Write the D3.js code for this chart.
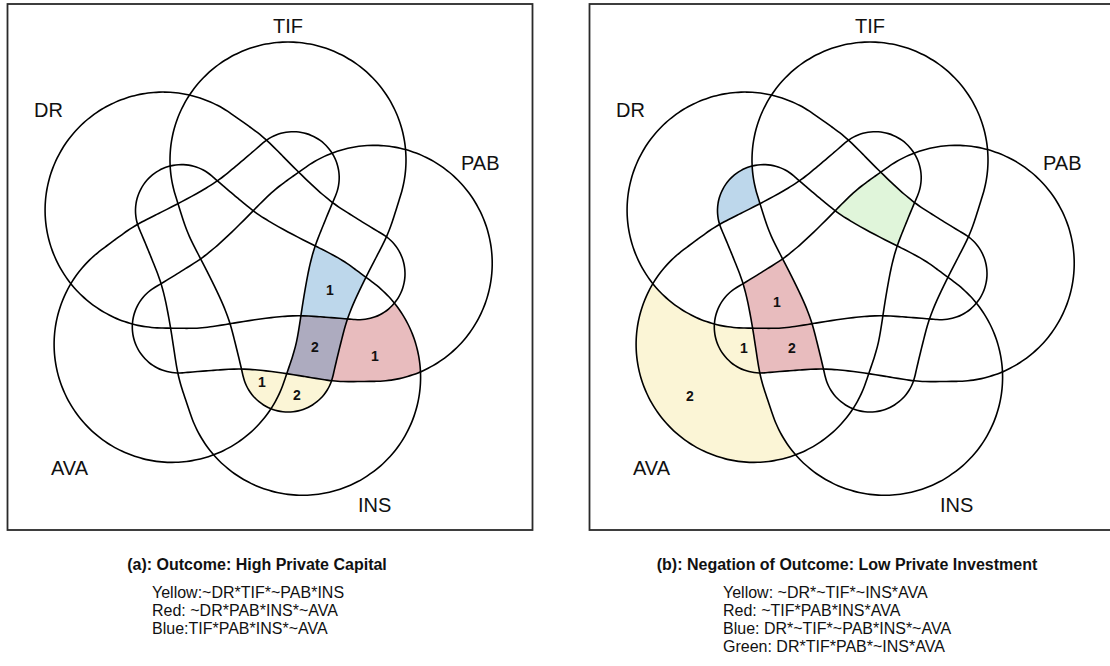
<!DOCTYPE html>
<html>
<head>
<meta charset="utf-8">
<script src="https://cdn.jsdelivr.net/npm/d3@7"></script>
<style>
  html, body { margin: 0; padding: 0; background: #fff; }
  svg { display: block; }
</style>
</head>
<body>
<svg id="chart" width="1110" height="666"></svg>
<script>
// ---- data ----------------------------------------------------------------
// sets in clockwise order, starting with the one whose lobe points up
const setNames = ["TIF", "PAB", "INS", "AVA", "DR"];

const panelTitles = [
  "(a): Outcome: High Private Capital",
  "(b): Negation of Outcome: Low Private Investment"
];

// solution terms, one per line; each term is also the fill rule for its colour
const solutionTermsA = [
  "Yellow:~DR*TIF*~PAB*INS",
  "Red: ~DR*PAB*INS*~AVA",
  "Blue:TIF*PAB*INS*~AVA"
];
const solutionTermsB = [
  "Yellow: ~DR*~TIF*~INS*AVA",
  "Red: ~TIF*PAB*INS*AVA",
  "Blue: DR*~TIF*~PAB*INS*~AVA",
  "Green: DR*TIF*PAB*~INS*AVA"
];

// number of cases in each shaded cell
const caseCountsA = [1, 2, 1, 1, 2];   // blue, blue+red, red, yellow, yellow
const caseCountsB = [1, 2, 1, 2];      // red, red, yellow, yellow

// ---- styling / layout ----------------------------------------------------
const termColors = {
  Yellow: "#fbf5d6",
  Red: "#e8bcbe",
  Blue: "#bdd7eb",
  Green: "#e0f5da"
};
const overlapColor = "#adabbf";

const svg = d3.select("#chart");
const defs = svg.append("defs");

// ---- outline of one set (local axis along y, lobe towards -y) ------------
const lobeR = 118, lobeCy = -111;            // round lobe
const tailStart = -75, tailEnd = 105.3;      // tapering tail section
const tailWidths = [112.4, 106.8, 101, 92, 82.5, 73.5, 65, 58, 53.5, 49, 44.86];
const capCy = 94.97, capR = 46.03;           // round tail end, tangent to the tail
const axisOffset = 28;                       // axis distance from the rotation centre
const centre = [260, 271];                   // rotation centre inside a panel

function buildOutline() {
  const right = [];
  const phiJoin = Math.acos(-(tailStart - lobeCy) / lobeR);
  for (let i = 0; i <= 40; i++) {
    const phi = phiJoin * i / 40;
    right.push([lobeR * Math.sin(phi), lobeCy - lobeR * Math.cos(phi)]);
  }
  const hw = d3.interpolateBasis(tailWidths);
  for (let i = 1; i <= 36; i++) {
    const t = i / 36;
    right.push([hw(t), tailStart + t * (tailEnd - tailStart)]);
  }
  const a0 = Math.asin((tailEnd - capCy) / capR);
  for (let i = 1; i < 12; i++) {
    const a = a0 + (Math.PI / 2 - a0) * i / 12;
    right.push([capR * Math.cos(a), capCy + capR * Math.sin(a)]);
  }
  const tip = [0, capCy + capR];
  const left = right.slice(1).reverse().map(([x, y]) => [-x, y]);
  return right.concat([tip], left).map(([x, y]) => [axisOffset + x, y]);
}
const outline = buildOutline();
const shapePath = d3.line().curve(d3.curveCatmullRomClosed.alpha(0.5))(outline);

const rotationScale = d3.scaleLinear().domain([0, setNames.length]).range([0, 360]);
const setTransform = name =>
  `translate(${centre[0]},${centre[1]}) rotate(${rotationScale(setNames.indexOf(name))})`;

// one clip path per set
setNames.forEach(name => {
  defs.append("clipPath")
    .attr("id", "clip-" + name)
    .attr("clipPathUnits", "userSpaceOnUse")
    .append("path")
    .attr("d", shapePath)
    .attr("transform", setTransform(name));
});

// parse "Colour: A*~B*C" into include / exclude lists
function parseTerm(line) {
  const [label, expr] = line.split(":");
  const include = [], exclude = [];
  expr.trim().split("*").forEach(tok => {
    tok = tok.trim();
    if (tok.startsWith("~")) exclude.push(tok.slice(1)); else include.push(tok);
  });
  return { label: label.trim(), include, exclude };
}

let maskCount = 0;
function drawRegion(g, include, exclude, color) {
  const maskId = "mask-" + (maskCount++);
  const mask = defs.append("mask")
    .attr("id", maskId)
    .attr("maskUnits", "userSpaceOnUse")
    .attr("x", 0).attr("y", 0).attr("width", 540).attr("height", 540);
  mask.append("rect").attr("x", 0).attr("y", 0).attr("width", 540).attr("height", 540)
    .attr("fill", "#fff");
  exclude.forEach(name => {
    mask.append("path").attr("d", shapePath)
      .attr("transform", setTransform(name)).attr("fill", "#000");
  });
  let inner = g;
  include.forEach(name => {
    inner = inner.append("g").attr("clip-path", `url(#clip-${name})`);
  });
  inner.append("rect")
    .attr("x", 0).attr("y", 0).attr("width", 540).attr("height", 540)
    .attr("fill", color)
    .attr("mask", `url(#${maskId})`);
}

const labelFont = "'Liberation Sans', Arial, Helvetica, sans-serif";

// set name positions (text start, baseline) inside a panel
const setLabelPos = {
  TIF: [273, 32.5], PAB: [461, 170], INS: [358, 512], AVA: [51, 475], DR: [34, 117]
};

const panels = [
  {
    dx: 0, terms: solutionTermsA, counts: caseCountsA,
    countPos: [[330, 290], [315, 347], [375, 356], [262, 382], [297, 395]],
    titleX: 257, termX: 152
  },
  {
    dx: 582, terms: solutionTermsB, counts: caseCountsB,
    countPos: [[777 - 582, 302], [792 - 582, 348], [744 - 582, 348], [690 - 582, 396]],
    titleX: 847 - 582, termX: 723 - 582
  }
];

panels.forEach((p, pi) => {
  const g = svg.append("g").attr("transform", `translate(${p.dx},0)`);

  // frame
  g.append("rect")
    .attr("x", 7.5).attr("y", 4).attr("width", 525).attr("height", 526)
    .attr("fill", "none").attr("stroke", "#2a2a2a").attr("stroke-width", 1.8);

  // shaded cells
  const terms = p.terms.map(parseTerm);
  const fills = g.append("g");
  terms.forEach(t => drawRegion(fills, t.include, t.exclude, termColors[t.label]));
  // cells covered by two terms at once
  for (let i = 0; i < terms.length; i++) {
    for (let j = i + 1; j < terms.length; j++) {
      const inc = Array.from(new Set(terms[i].include.concat(terms[j].include)));
      const exc = Array.from(new Set(terms[i].exclude.concat(terms[j].exclude)));
      if (inc.some(n => exc.includes(n))) continue;
      drawRegion(fills, inc, exc, overlapColor);
    }
  }

  // set outlines
  g.append("g").selectAll("path").data(setNames).join("path")
    .attr("d", shapePath)
    .attr("transform", d => setTransform(d))
    .attr("fill", "none")
    .attr("stroke", "#000")
    .attr("stroke-width", 1.6);

  // set names
  g.append("g").selectAll("text").data(setNames).join("text")
    .attr("x", d => setLabelPos[d][0])
    .attr("y", d => setLabelPos[d][1])
    .attr("font-family", labelFont)
    .attr("font-size", 20)
    .attr("fill", "#111")
    .text(d => d);

  // case counts
  g.append("g").selectAll("text").data(p.counts).join("text")
    .attr("x", (d, i) => p.countPos[i][0])
    .attr("y", (d, i) => p.countPos[i][1])
    .attr("text-anchor", "middle")
    .attr("dominant-baseline", "central")
    .attr("font-family", labelFont)
    .attr("font-weight", "bold")
    .attr("font-size", 14)
    .attr("fill", "#111")
    .text(d => d);

  // caption
  g.append("text")
    .attr("x", p.titleX).attr("y", 570)
    .attr("text-anchor", "middle")
    .attr("font-family", labelFont)
    .attr("font-weight", "bold")
    .attr("font-size", 16)
    .attr("fill", "#111")
    .text(panelTitles[pi]);

  // solution terms
  g.append("g").selectAll("text").data(p.terms).join("text")
    .attr("x", p.termX)
    .attr("y", (d, i) => 597.5 + i * 18.3)
    .attr("font-family", labelFont)
    .attr("font-size", 16)
    .attr("fill", "#111")
    .text(d => d);
});
</script>
</body>
</html>
